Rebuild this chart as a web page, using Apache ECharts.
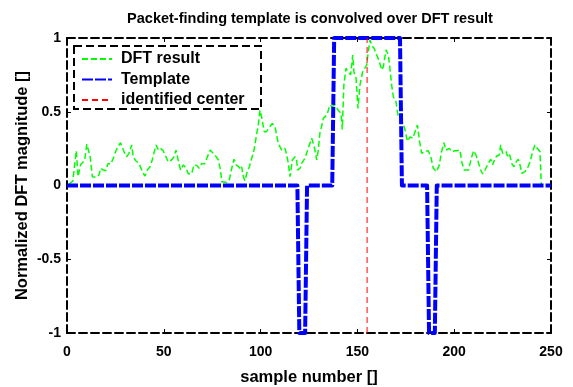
<!DOCTYPE html>
<html>
<head>
<meta charset="utf-8">
<script src="https://cdn.jsdelivr.net/npm/echarts@6/dist/echarts.min.js"></script>
<style>
html,body{margin:0;padding:0;background:#fff;}
#chart{width:573px;height:387px;}
</style>
</head>
<body>
<div id="chart"></div>
<script>
// ---- data ----
const titleText = 'Packet-finding template is convolved over DFT result';
const xName = 'sample number []';
const yName = 'Normalized DFT magnitude []';
const seriesNames = ['DFT result', 'Template', 'identified center'];

const xTicks = [0, 50, 100, 150, 200, 250];
const yTicks = [-1, -0.5, 0, 0.5, 1];

const dftX = [1, 3, 4.8, 5.7, 7, 7.9, 9.1, 10.2, 10.9, 11.9, 13.1, 14.8, 16.5, 17.4, 18.8, 20, 21.2, 22.6, 23.9, 25.1,
  26.3, 27.7, 28.5, 29.4, 30.8, 32, 33.4, 34.2, 35.5, 37.2, 38.9, 40.3, 41.5, 42.9, 44, 44.9, 46, 47.2, 48.4, 49.7,
  50.6, 52.3, 54, 55.3, 56.3, 56.9, 58, 58.7, 60.1, 61.5, 62.7, 64.4, 65.6, 67, 68.3, 69.6, 70.9, 72.2, 73, 73.9,
  74.7, 76.4, 78.2, 79.4, 79.9, 82.5, 83.8, 85.1, 86.3, 87.3, 88.5, 89.7, 90.2, 91.1, 91.9, 93.1, 94.2, 95.4, 96.6, 97.6,
  98.8, 99.7, 100.5, 101.9, 103, 104.9, 106, 107.4, 108.3, 109.1, 110.9, 112.6, 113.5, 114.3, 115.2, 116.4, 117.8, 118.6, 119.1, 120.4,
  121.2, 122.9, 124.6, 126.4, 127.7, 129, 129.8, 130.7, 131.5, 132.4, 133.3, 134.2, 135, 135.8, 137, 138.4, 140.1, 141.5, 142.2, 143,
  144.1, 145.3, 146.5, 147.6, 148.2, 149.3, 150.3, 151.3, 152.7, 153.9, 154.8, 155.6, 156.5, 157.4, 158.6, 160, 161.3, 162.6, 163.4, 164.8,
  166, 166.8, 167.7, 168.6, 169.9, 171.1, 172.4, 173.7, 174.6, 175.8, 177.2, 178.6, 179.8, 181, 182, 183.2, 184.9, 186.6, 187.9, 189.2,
  190.9, 192.3, 193.5, 194.7, 195.7, 197.5, 198.7, 200.4, 201.6, 203, 203.9, 205.1, 207.4, 208.6, 210, 211.3, 212.5, 213.7, 214.7, 215.9,
  217.6, 218.9, 219.9, 221.1, 222, 223.3, 224, 225, 226.8, 227.5, 228.5, 229.7, 230.9, 232, 233.1, 234, 234.9, 236.6, 237.8, 239.2,
  240.5, 241.7, 242.9, 244.3, 245];
const dftY = [0.01, 0.03, 0.236, 0.06, 0.14, 0.13, 0.17, 0.28, 0.27, 0.2, 0.06, 0.055, 0.07, 0.117, 0.105, 0.1, 0.15, 0.145, 0.184, 0.23,
  0.263, 0.29, 0.29, 0.23, 0.195, 0.218, 0.275, 0.195, 0.168, 0.15, 0.094, 0.064, 0.105, 0.127, 0.173, 0.16, 0.275, 0.24, 0.25, 0.236,
  0.236, 0.16, 0.173, 0.195, 0.24, 0.23, 0.14, 0.105, 0.14, 0.117, 0.078, 0.08, 0.14, 0.135, 0.117, 0.15, 0.145, 0.184, 0.173, 0.24,
  0.25, 0.207, 0.173, 0.094, 0.026, 0.02, 0.037, 0.117, 0.178, 0.14, 0.13, 0.11, 0.127, 0.06, 0.033, 0.094, 0.127, 0.184, 0.24, 0.32,
  0.41, 0.51, 0.466, 0.365, 0.365, 0.4, 0.42, 0.4, 0.342, 0.286, 0.24, 0.252, 0.207, 0.15, 0.06, 0.173, 0.195, 0.173, 0.105, 0.117,
  0.15, 0.184, 0.252, 0.32, 0.263, 0.173, 0.24, 0.365, 0.4, 0.455, 0.444, 0.478, 0.51, 0.546, 0.534, 0.546, 0.51, 0.49, 0.38, 0.68,
  0.795, 0.77, 0.75, 0.885, 0.77, 0.727, 0.523, 0.68, 0.77, 0.795, 0.817, 0.907, 0.986, 0.95, 0.93, 0.885, 0.84, 0.783, 0.805, 0.92,
  0.885, 0.795, 0.68, 0.6, 0.57, 0.466, 0.455, 0.42, 0.376, 0.3, 0.33, 0.32, 0.365, 0.41, 0.308, 0.218, 0.23, 0.236, 0.195, 0.117,
  0.094, 0.14, 0.23, 0.29, 0.24, 0.252, 0.23, 0.236, 0.236, 0.24, 0.16, 0.105, 0.105, 0.173, 0.236, 0.205, 0.155, 0.105, 0.078, 0.105,
  0.15, 0.178, 0.14, 0.184, 0.2, 0.207, 0.275, 0.218, 0.23, 0.2, 0.218, 0.15, 0.127, 0.16, 0.178, 0.14, 0.083, 0.094, 0.117, 0.16,
  0.23, 0.275, 0.252, 0.23, 0.0];

const templateX = [0, 119, 120, 123, 124, 137, 138, 172, 173, 186, 187, 190, 191, 250];
const templateY = [0, 0, -1, -1, 0, 0, 1, 1, 0, 0, -1, -1, 0, 0];

const centerX = [155, 155];
const centerY = [-1, 1];

// ---- build ----
const zip = (a, b) => a.map((v, i) => [v, b[i]]);
const FONT = '"Liberation Sans", Arial, Helvetica, sans-serif';
const dashAxis = {show: true, onZero: false, lineStyle: {color: '#000', width: 2, type: [8, 4]}};
const inTick = {show: true, inside: true, length: 4, lineStyle: {color: '#000', width: 1}};
const lbl = {color: '#000', fontFamily: FONT, fontWeight: 'bold', fontSize: 14};
const nameStyle = {color: '#000', fontFamily: FONT, fontWeight: 'bold', fontSize: 16.5};

const chart = echarts.init(document.getElementById('chart'), null, {renderer: 'canvas'});
chart.setOption({
  animation: false,
  backgroundColor: '#fff',
  title: {
    text: titleText, left: 305, top: 6, textAlign: 'center',
    textStyle: {color: '#000', fontFamily: FONT, fontWeight: 'bold', fontSize: 14.5}
  },
  grid: {left: 67, right: 22, top: 38, bottom: 54, containLabel: false, outerBoundsMode: 'none'},
  legend: {
    orient: 'vertical', left: 76, top: 46, itemWidth: 30, itemHeight: 10, itemGap: 4.5,
    data: seriesNames,
    itemStyle: {opacity: 0},
    textStyle: {color: '#000', fontFamily: FONT, fontWeight: 'bold', fontSize: 16, padding: [0, 0, 0, 4]}
  },
  graphic: [{
    type: 'rect', left: 73, top: 45, z: 0,
    shape: {width: 187, height: 63},
    style: {fill: '#fff', stroke: '#000', lineWidth: 2, lineDash: [8, 4]}
  }],
  xAxis: [{
    type: 'value', min: xTicks[0], max: xTicks[xTicks.length - 1], interval: 50, position: 'bottom',
    name: xName, nameLocation: 'middle', nameGap: 36, nameTextStyle: nameStyle, nameMoveOverlap: false,
    axisLine: dashAxis, axisTick: inTick, splitLine: {show: false},
    axisLabel: Object.assign({margin: 12}, lbl)
  }, {
    type: 'value', min: xTicks[0], max: xTicks[xTicks.length - 1], interval: 50, position: 'top',
    axisLine: dashAxis, axisTick: inTick, splitLine: {show: false}, axisLabel: {show: false}
  }],
  yAxis: [{
    type: 'value', min: yTicks[0], max: yTicks[yTicks.length - 1], interval: 0.5, position: 'left',
    name: yName, nameLocation: 'middle', nameGap: 36, nameTextStyle: nameStyle, nameMoveOverlap: false,
    axisLine: dashAxis, axisTick: inTick, splitLine: {show: false},
    axisLabel: Object.assign({margin: 6}, lbl)
  }, {
    type: 'value', min: yTicks[0], max: yTicks[yTicks.length - 1], interval: 0.5, position: 'right',
    axisLine: dashAxis, axisTick: inTick, splitLine: {show: false}, axisLabel: {show: false}
  }],
  series: [{
    name: seriesNames[0], type: 'line', data: zip(dftX, dftY), symbol: 'none', z: 2,
    itemStyle: {color: '#00ff00'},
    lineStyle: {color: '#00ff00', width: 1.5, type: [6, 3]}
  }, {
    name: seriesNames[1], type: 'line', data: zip(templateX, templateY), symbol: 'none', z: 3,
    itemStyle: {color: '#0000ff'},
    lineStyle: {color: '#0000ff', width: 4, type: [11, 2], cap: 'butt', join: 'round'}
  }, {
    name: seriesNames[2], type: 'line', data: zip(centerX, centerY), symbol: 'none', z: 4,
    itemStyle: {color: '#ff0000'},
    lineStyle: {color: '#ff0000', width: 1, type: [6, 4]}
  }]
});
</script>
</body>
</html>
